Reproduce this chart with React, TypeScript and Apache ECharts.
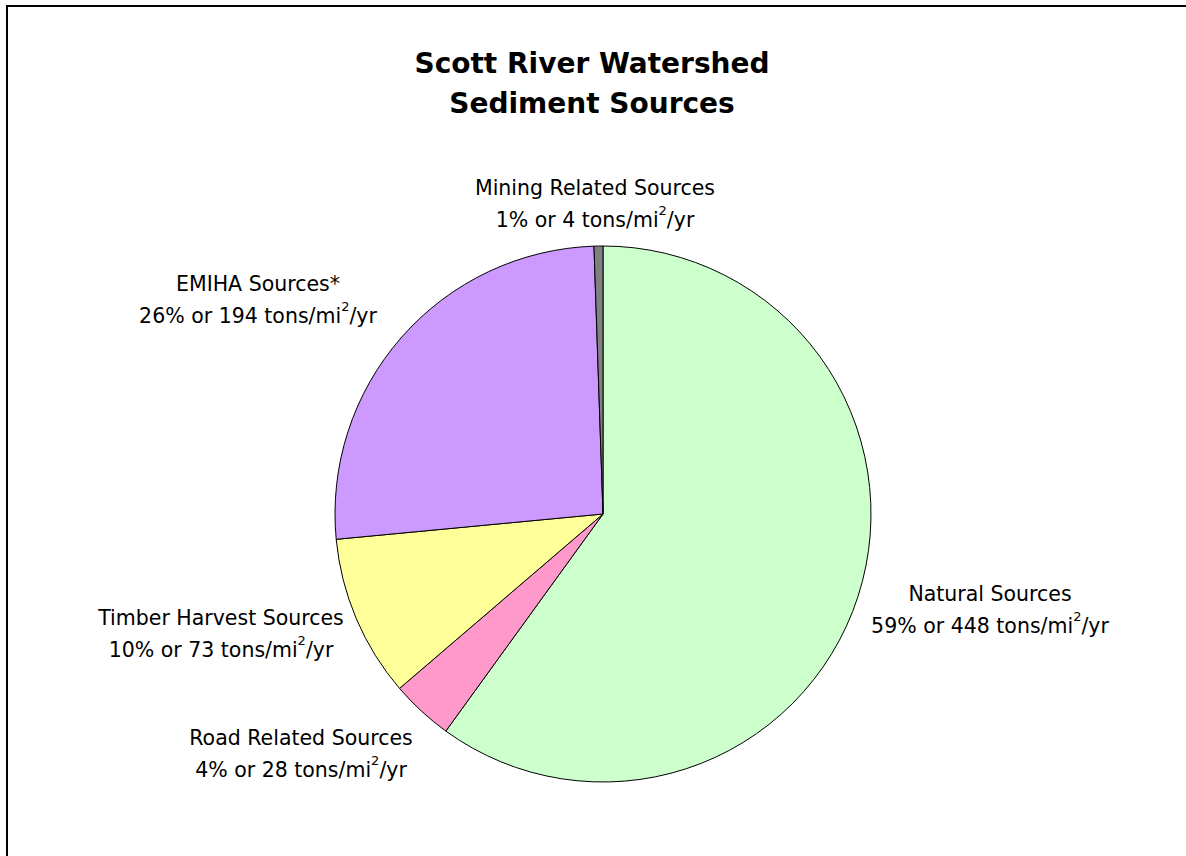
import React, { useEffect, useRef } from "react";
import * as echarts from "echarts";

const categories = [
  "Natural Sources",
  "Road Related Sources",
  "Timber Harvest Sources",
  "EMIHA Sources*",
  "Mining Related Sources",
];
const tonsPerSqMiYr = [448, 28, 73, 194, 4];
const percentLabels = ["59%", "4%", "10%", "26%", "1%"];
const sliceColors = ["#CCFFCC", "#FF99CC", "#FFFF99", "#CC99FF", "#808080"];
const labelCenters: [number, number][] = [
  [990, 610],
  [301, 754],
  [221, 634],
  [258, 300],
  [595, 204],
];

const FONT = "'DejaVu Sans', 'Liberation Sans', Arial, sans-serif";

export default function App() {
  const ref = useRef<HTMLDivElement>(null);
  useEffect(() => {
    if (!ref.current) return;
    const chart = echarts.init(ref.current, null, { renderer: "svg" });
    chart.setOption({
      animation: false,
      backgroundColor: "#ffffff",
      title: {
        text: "Scott River Watershed\nSediment Sources",
        left: 592,
        top: 43,
        textAlign: "center",
        padding: 0,
        textStyle: {
          fontFamily: FONT,
          fontSize: 28,
          fontWeight: "bold",
          lineHeight: 40,
          color: "#000",
        },
      },
      graphic: [
        {
          type: "polyline",
          shape: { points: [[7, 856], [7, 6], [1186, 6]] },
          style: { stroke: "#000", lineWidth: 2, fill: "none" },
          silent: true,
        },
      ],
      series: [
        {
          type: "pie",
          center: [603, 514],
          radius: 268,
          startAngle: 90,
          clockwise: true,
          avoidLabelOverlap: false,
          emphasis: { disabled: true },
          itemStyle: { borderColor: "#000", borderWidth: 1 },
          labelLine: { show: false },
          label: {
            show: true,
            position: "outside",
            fontFamily: FONT,
            color: "#000",
            formatter: (p: any) =>
              `{a|${categories[p.dataIndex]}}\n{a|${percentLabels[p.dataIndex]} or ${tonsPerSqMiYr[p.dataIndex]} tons/mi}{s|2}{a|/yr}`,
            rich: {
              a: { fontFamily: FONT, fontSize: 20.5, lineHeight: 32, color: "#000" },
              s: {
                fontFamily: FONT,
                fontSize: 13,
                lineHeight: 18,
                color: "#000",
                verticalAlign: "top",
              },
            },
          },
          labelLayout: (params: any) => {
            const c = labelCenters[params.dataIndex];
            return { x: c[0], y: c[1], align: "center", verticalAlign: "middle" };
          },
          data: categories.map((name, i) => ({
            name,
            value: tonsPerSqMiYr[i],
            itemStyle: { color: sliceColors[i] },
          })),
        },
      ],
    });
    return () => chart.dispose();
  }, []);
  return (
    <div
      ref={ref}
      style={{ position: "absolute", left: 0, top: 0, width: 1186, height: 856 }}
    />
  );
}
